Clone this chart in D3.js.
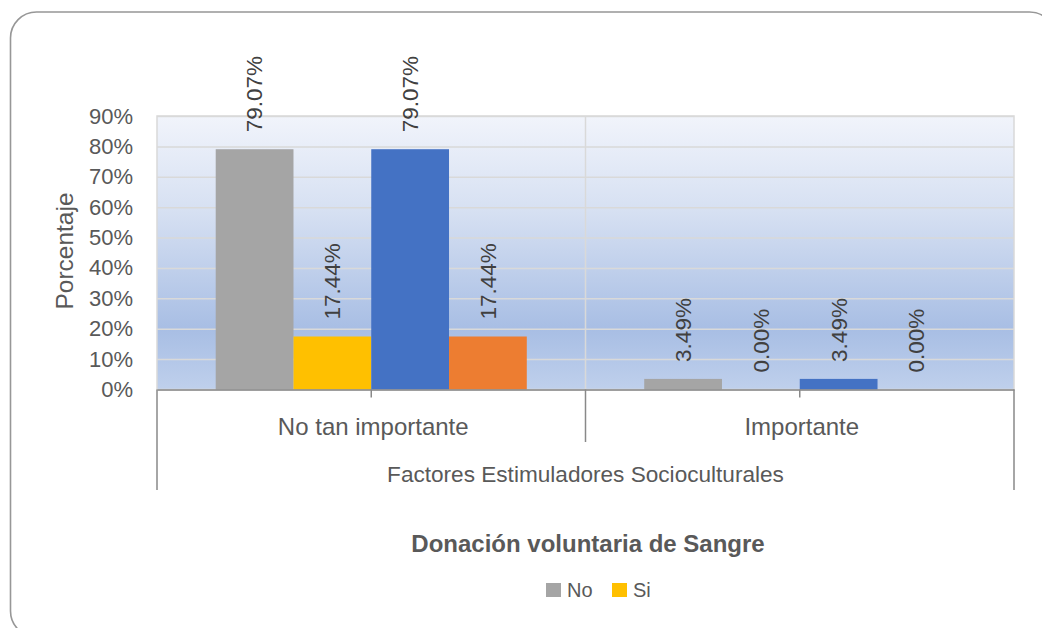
<!DOCTYPE html>
<html>
<head>
<meta charset="utf-8">
<script src="https://cdn.jsdelivr.net/npm/d3@7"></script>
<style>
  body { margin: 0; background: #fff; }
  svg text { font-family: "Liberation Sans", Arial, sans-serif; }
</style>
</head>
<body>
<div id="chart"></div>
<script>
// datos
const categories = ["No tan importante", "Importante"];
const groupLabel = "Factores Estimuladores Socioculturales";
const seriesNames = ["No", "Si", "No", "Si"];
const seriesColors = ["#A5A5A5", "#FFC000", "#4472C4", "#ED7D31"];
const serieNo = [79.07, 3.49];
const serieSi = [17.44, 0.00];
const serieNo2 = [79.07, 3.49];
const serieSi2 = [17.44, 0.00];
const yTicks = [0, 10, 20, 30, 40, 50, 60, 70, 80, 90];
const legendNames = ["No", "Si"];
const legendColors = ["#A5A5A5", "#FFC000"];

const width = 1042, height = 628;
const plot = { left: 157, right: 1014, top: 116, bottom: 389.5 };
const allSeries = [serieNo, serieSi, serieNo2, serieSi2];

const svg = d3.select("#chart").append("svg")
  .attr("width", width)
  .attr("height", height);

// marco redondeado
svg.append("rect")
  .attr("x", 10.5).attr("y", 12)
  .attr("width", 1045).attr("height", 625)
  .attr("rx", 26)
  .attr("fill", "#fff")
  .attr("stroke", "#979797")
  .attr("stroke-width", 1.6);

const grad = svg.append("defs").append("linearGradient")
  .attr("id", "bg").attr("x1", 0).attr("y1", 0).attr("x2", 0).attr("y2", 1);
[["0%", "#f1f4fb"], ["35%", "#d6e0f2"], ["78%", "#a8bee4"], ["100%", "#bfd0ec"]]
  .forEach(s => grad.append("stop").attr("offset", s[0]).attr("stop-color", s[1]));

const x0 = d3.scaleBand().domain(categories).range([plot.left, plot.right]).paddingInner(0);
const x1 = d3.scaleBand().domain(d3.range(allSeries.length))
  .range([0, x0.bandwidth()]).paddingInner(0).paddingOuter(0.755);
const y = d3.scaleLinear().domain([0, 90]).range([plot.bottom, plot.top]);

// fondo del area de trazado
svg.append("rect")
  .attr("x", plot.left).attr("y", plot.top)
  .attr("width", plot.right - plot.left).attr("height", plot.bottom - plot.top)
  .attr("fill", "url(#bg)")
  .attr("stroke", "#d9d9d9").attr("stroke-width", 1.5);

// lineas de cuadricula
svg.append("g")
  .attr("transform", `translate(${plot.left},0)`)
  .call(d3.axisLeft(y).tickValues(yTicks).tickSize(-(plot.right - plot.left)).tickFormat(""))
  .call(g => g.select(".domain").remove())
  .call(g => g.selectAll("line").attr("stroke", "#d9d9d9").attr("stroke-width", 1.5));

// separador vertical entre categorias dentro del area
svg.append("line")
  .attr("x1", x0(categories[1])).attr("x2", x0(categories[1]))
  .attr("y1", plot.top).attr("y2", plot.bottom)
  .attr("stroke", "#d9d9d9").attr("stroke-width", 1.5);

// eje Y
svg.append("g")
  .attr("transform", `translate(${plot.left},0)`)
  .call(d3.axisLeft(y).tickValues(yTicks).tickSize(0).tickPadding(24).tickFormat(d => d + "%"))
  .call(g => g.select(".domain").remove())
  .call(g => g.selectAll("text")
    .attr("fill", "#595959")
    .style("font-size", "22px"));

svg.append("text")
  .attr("transform", `translate(${73},${251}) rotate(-90)`)
  .attr("text-anchor", "middle")
  .attr("fill", "#595959")
  .style("font-size", "24.5px")
  .text("Porcentaje");

// barras
const groups = svg.append("g").selectAll("g")
  .data(categories)
  .join("g")
  .attr("transform", d => `translate(${x0(d)},0)`);

groups.selectAll("rect")
  .data((d, ci) => allSeries.map((s, si) => ({ si, v: s[ci] })))
  .join("rect")
  .attr("x", d => x1(d.si))
  .attr("width", x1.bandwidth())
  .attr("y", d => y(d.v))
  .attr("height", d => y(0) - y(d.v))
  .attr("fill", d => seriesColors[d.si]);

groups.selectAll("text")
  .data((d, ci) => allSeries.map((s, si) => ({ si, v: s[ci] })))
  .join("text")
  .attr("transform", d => `translate(${x1(d.si) + x1.bandwidth() / 2},${y(d.v) - 17}) rotate(-90)`)
  .attr("dy", "0.35em")
  .attr("text-anchor", "start")
  .attr("fill", "#404040")
  .style("font-size", "22.5px")
  .text(d => d.v.toFixed(2) + "%");

// eje X (multinivel)
svg.append("g")
  .attr("transform", `translate(0,${plot.bottom})`)
  .call(d3.axisBottom(x0).tickSize(8).tickSizeOuter(0).tickFormat(""))
  .call(g => g.selectAll("line, path").attr("stroke", "#898989").attr("stroke-width", 1.5));

const sep = svg.append("g").attr("stroke", "#898989").attr("stroke-width", 1.5);
[plot.left, plot.right].forEach(xx => sep.append("line")
  .attr("x1", xx).attr("x2", xx).attr("y1", plot.bottom).attr("y2", 490));
sep.append("line")
  .attr("x1", x0(categories[1])).attr("x2", x0(categories[1]))
  .attr("y1", plot.bottom).attr("y2", 442);

svg.append("g").selectAll("text")
  .data(categories)
  .join("text")
  .attr("x", d => x0(d) + x0.bandwidth() / 2 + 2)
  .attr("y", 435)
  .attr("text-anchor", "middle")
  .attr("fill", "#595959")
  .style("font-size", "24px")
  .text(d => d);

svg.append("text")
  .attr("x", (plot.left + plot.right) / 2)
  .attr("y", 482)
  .attr("text-anchor", "middle")
  .attr("fill", "#595959")
  .style("font-size", "22.6px")
  .text(groupLabel);

// titulo de la leyenda
svg.append("text")
  .attr("x", 588)
  .attr("y", 552)
  .attr("text-anchor", "middle")
  .attr("fill", "#595959")
  .style("font-size", "24px")
  .style("font-weight", "bold")
  .text("Donación voluntaria de Sangre");

// leyenda
const legendX = [546, 612];
const leg = svg.append("g").selectAll("g")
  .data(legendNames)
  .join("g")
  .attr("transform", (d, i) => `translate(${legendX[i]},583)`);
leg.append("rect")
  .attr("width", 15).attr("height", 14)
  .attr("fill", (d, i) => legendColors[i]);
leg.append("text")
  .attr("x", 21).attr("y", 14)
  .attr("fill", "#595959")
  .style("font-size", "20px")
  .text(d => d);
</script>
</body>
</html>
